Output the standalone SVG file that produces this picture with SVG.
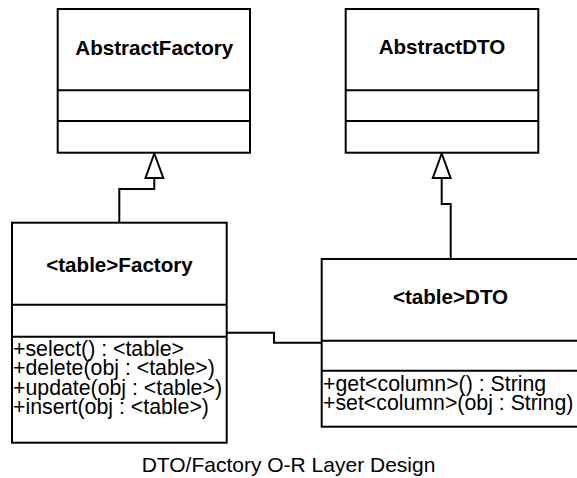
<svg xmlns="http://www.w3.org/2000/svg" width="577" height="478" viewBox="0 0 577 478">
<style>
.box{fill:#fff;stroke:#000;stroke-width:2}
.div{stroke:#000;stroke-width:2;fill:none}
.title{font-family:"Liberation Sans",Arial,sans-serif;font-weight:bold;font-size:20.6px;text-anchor:middle;fill:#000}
.op{font-family:"Liberation Sans",Arial,sans-serif;font-size:21.3px;fill:#000}
.cap{font-family:"Liberation Sans",Arial,sans-serif;font-size:21px;text-anchor:middle;fill:#000}
.edge{fill:none;stroke:#000;stroke-width:2}
.tri{fill:#fff;stroke:#000;stroke-width:2}
</style>
<rect width="577" height="478" fill="#fff"/>
<g id="connectors">
<polyline class="edge" points="154.3,178 154.3,189 119.3,189 119.3,222.7"/>
<polygon class="tri" points="154.3,153.5 145.5,178 163.3,178"/>
<polyline class="edge" points="441.7,178 441.7,204 450.7,204 450.7,259"/>
<polygon class="tri" points="441.7,153.5 432.8,178 450.6,178"/>
<polyline class="edge" points="226.7,332.7 274,332.7 274,342.7 321.7,342.7"/>
</g>
<g id="AbstractFactory">
<rect class="box" x="57.7" y="9" width="192.3" height="143.7"/>
<line class="div" x1="57.7" y1="90.3" x2="250" y2="90.3"/>
<line class="div" x1="57.7" y1="121" x2="250" y2="121"/>
<text class="title" x="154.3" y="54.5">AbstractFactory</text>
</g>
<g id="AbstractDTO">
<rect class="box" x="345.7" y="9" width="192.6" height="143.7"/>
<line class="div" x1="345.7" y1="90.3" x2="538.3" y2="90.3"/>
<line class="div" x1="345.7" y1="121" x2="538.3" y2="121"/>
<text class="title" x="442" y="54">AbstractDTO</text>
</g>
<g id="TableFactory">
<rect class="box" x="12" y="222.7" width="214.7" height="220"/>
<line class="div" x1="12" y1="304.7" x2="226.7" y2="304.7"/>
<line class="div" x1="12" y1="336.7" x2="226.7" y2="336.7"/>
<text class="title" x="119.5" y="272.3">&lt;table&gt;Factory</text>
<text class="op" x="13" y="356">+select() : &lt;table&gt;</text>
<text class="op" x="13" y="375.3">+delete(obj : &lt;table&gt;)</text>
<text class="op" x="13" y="394.6">+update(obj : &lt;table&gt;)</text>
<text class="op" x="13" y="414">+insert(obj : &lt;table&gt;)</text>
</g>
<g id="TableDTO">
<rect class="box" x="321.7" y="259" width="260" height="167.7"/>
<line class="div" x1="321.7" y1="340.7" x2="581.7" y2="340.7"/>
<line class="div" x1="321.7" y1="370.7" x2="581.7" y2="370.7"/>
<text class="title" x="450.5" y="304.3">&lt;table&gt;DTO</text>
<text class="op" x="323" y="390.5">+get&lt;column&gt;() : String</text>
<text class="op" x="323" y="409.8">+set&lt;column&gt;(obj : String)</text>
</g>
<text class="cap" x="288.5" y="471.5">DTO/Factory O-R Layer Design</text>
</svg>
